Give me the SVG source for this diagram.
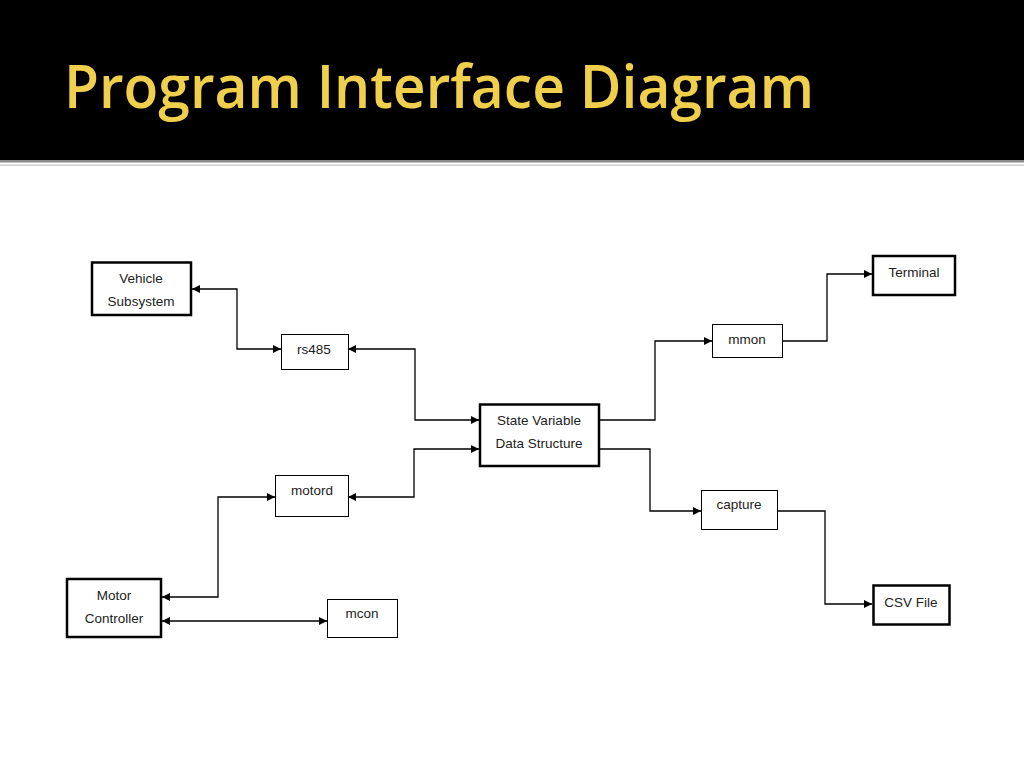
<svg xmlns="http://www.w3.org/2000/svg" width="1024" height="768" viewBox="0 0 1024 768">
  <defs>
    <marker id="arr" viewBox="0 0 10 10" refX="10" refY="5" markerWidth="9" markerHeight="8" markerUnits="userSpaceOnUse" orient="auto-start-reverse">
      <path d="M0,0 L10,5 L0,10 z" fill="#000"/>
    </marker>
    <style>
      .thick { fill: #fff; stroke: #000; stroke-width: 2.5; }
      .thin { fill: #fff; stroke: #000; stroke-width: 1; }
      .lbl { font-family: "Liberation Sans", "Open Sans", sans-serif; font-size: 13.5px; fill: #222; text-anchor: middle; }
      .conn { fill: none; stroke: #000; stroke-width: 1.3; }
    </style>
  </defs>
  <rect x="0" y="0" width="1024" height="768" fill="#fff"/>
  <rect x="0" y="0" width="1024" height="160" fill="#000"/>
  <rect x="0" y="160" width="1024" height="2.5" fill="#8a8a8a"/>
  <rect x="0" y="164.5" width="1024" height="1.5" fill="#d0d0d0"/>
  <text x="64" y="108" font-family="'Open Sans', 'Noto Sans', sans-serif" font-weight="600" font-size="60" fill="#f0cf4c" textLength="750" lengthAdjust="spacingAndGlyphs">Program Interface Diagram</text>

  <g id="connectors">
    <path class="conn" d="M192,289 H237 V349 H281" marker-start="url(#arr)" marker-end="url(#arr)"/>
    <path class="conn" d="M348,349 H415 V420 H479" marker-start="url(#arr)" marker-end="url(#arr)"/>
    <path class="conn" d="M348,497 H414 V449 H479" marker-start="url(#arr)" marker-end="url(#arr)"/>
    <path class="conn" d="M162,597 H218 V497 H275" marker-start="url(#arr)" marker-end="url(#arr)"/>
    <path class="conn" d="M162,621 H327" marker-start="url(#arr)" marker-end="url(#arr)"/>
    <path class="conn" d="M600,420 H655 V341 H712" marker-end="url(#arr)"/>
    <path class="conn" d="M783,341 H827 V274 H872" marker-end="url(#arr)"/>
    <path class="conn" d="M600,449 H650 V511 H701" marker-end="url(#arr)"/>
    <path class="conn" d="M777,511 H825 V604 H872" marker-end="url(#arr)"/>
  </g>

  <g id="vehicle-subsystem">
    <rect class="thick" x="92" y="262.5" width="99" height="52.5"/>
    <text class="lbl" x="141" y="283">Vehicle</text>
    <text class="lbl" x="141" y="306">Subsystem</text>
  </g>
  <g id="rs485">
    <rect class="thin" x="281.5" y="334.5" width="67" height="35"/>
    <text class="lbl" x="314" y="354">rs485</text>
  </g>
  <g id="state-variable">
    <rect class="thick" x="480" y="404.5" width="119" height="61.5"/>
    <text class="lbl" x="539" y="425">State Variable</text>
    <text class="lbl" x="539" y="448">Data Structure</text>
  </g>
  <g id="motord">
    <rect class="thin" x="275.5" y="475.5" width="73" height="41"/>
    <text class="lbl" x="312" y="495">motord</text>
  </g>
  <g id="motor-controller">
    <rect class="thick" x="67" y="579" width="94" height="58"/>
    <text class="lbl" x="114" y="600">Motor</text>
    <text class="lbl" x="114" y="623">Controller</text>
  </g>
  <g id="mcon">
    <rect class="thin" x="327.5" y="599.5" width="70" height="38"/>
    <text class="lbl" x="362" y="618">mcon</text>
  </g>
  <g id="mmon">
    <rect class="thin" x="712.5" y="324.5" width="70" height="33"/>
    <text class="lbl" x="747" y="344">mmon</text>
  </g>
  <g id="terminal">
    <rect class="thick" x="873" y="256" width="82" height="39"/>
    <text class="lbl" x="914" y="277">Terminal</text>
  </g>
  <g id="capture">
    <rect class="thin" x="701.5" y="490.5" width="76" height="39"/>
    <text class="lbl" x="739" y="509">capture</text>
  </g>
  <g id="csv-file">
    <rect class="thick" x="873.5" y="585.5" width="76" height="39"/>
    <text class="lbl" x="911" y="607">CSV File</text>
  </g>
</svg>
